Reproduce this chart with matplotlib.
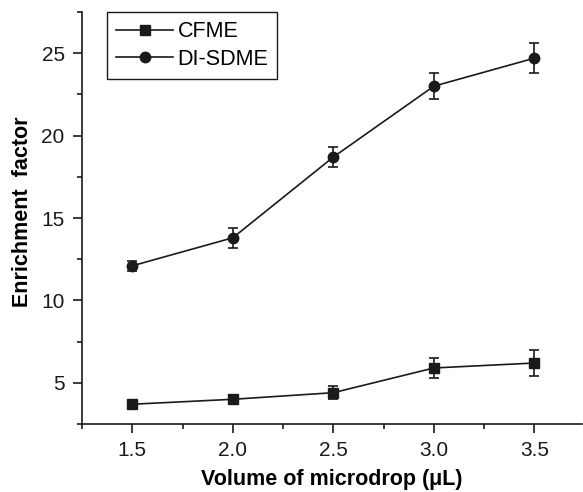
import numpy as np
import matplotlib.pyplot as plt
from matplotlib.ticker import MultipleLocator
from matplotlib.lines import Line2D

plt.rcParams['font.family'] = ['Liberation Sans', 'DejaVu Sans']

# data
volume = [1.5, 2.0, 2.5, 3.0, 3.5]
cfme = [3.7, 4.0, 4.4, 5.9, 6.2]
cfme_err = [0.15, 0.25, 0.4, 0.6, 0.8]
disdme = [12.1, 13.8, 18.7, 23.0, 24.7]
disdme_err = [0.3, 0.6, 0.6, 0.8, 0.9]

ink = '#1a1a1a'

fig = plt.figure(figsize=(5.83, 4.92), dpi=100)
ax = fig.add_axes([0.1407, 0.1382, 0.857, 0.8374])

ax.errorbar(volume, cfme, yerr=cfme_err, color=ink, marker='s',
            markersize=7, linewidth=1.2, elinewidth=1.2, capsize=3.5,
            capthick=1.2)
ax.errorbar(volume, disdme, yerr=disdme_err, color=ink, marker='o',
            markersize=7.5, linewidth=1.2, elinewidth=1.2, capsize=3.5,
            capthick=1.2)

ax.set_xlim(1.25, 3.735)
ax.set_ylim(2.5, 27.5)
ax.xaxis.set_major_locator(MultipleLocator(0.5))
ax.xaxis.set_minor_locator(MultipleLocator(0.25))
ax.yaxis.set_major_locator(MultipleLocator(5))
ax.yaxis.set_minor_locator(MultipleLocator(2.5))
ax.xaxis.set_major_formatter(plt.FuncFormatter(lambda v, p: f'{v:.1f}'))

ax.spines['top'].set_visible(False)
ax.spines['right'].set_visible(False)
for s in ['left', 'bottom']:
    ax.spines[s].set_linewidth(1.2)
    ax.spines[s].set_color(ink)

ax.tick_params(which='major', direction='out', length=6.5, width=1.2,
               labelsize=15, colors=ink, pad=6)
ax.tick_params(which='minor', direction='out', length=3.5, width=1.2,
               colors=ink)

ax.set_xlabel('Volume of microdrop (\u03bcL)', fontsize=15.5,
              fontweight='bold', labelpad=6)
ax.set_ylabel('Enrichment  factor', fontsize=15.5, fontweight='bold')
ax.yaxis.set_label_coords(-0.098, 0.515)

handles = [Line2D([], [], color=ink, marker='s', markersize=7, linewidth=1.2),
           Line2D([], [], color=ink, marker='o', markersize=7.5, linewidth=1.2)]
leg = ax.legend(handles, ['CFME', 'DI-SDME'], loc='upper left',
                bbox_to_anchor=(0.05, 1.0), borderaxespad=0, fontsize=15.5,
                handlelength=2.65, fancybox=False, edgecolor=ink, framealpha=1,
                borderpad=0.42, labelspacing=0.3, handletextpad=0.2)
leg.get_frame().set_linewidth(1.0)

fig.savefig('out.png', dpi=100)
